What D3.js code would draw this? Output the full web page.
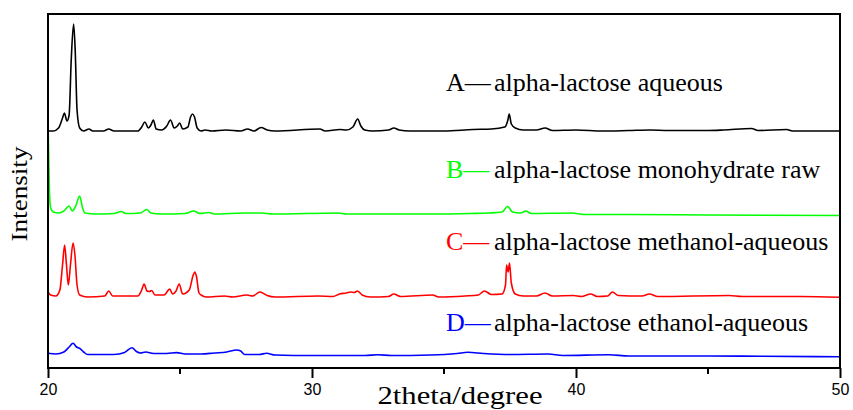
<!DOCTYPE html>
<html>
<head>
<meta charset="utf-8">
<script src="https://cdn.jsdelivr.net/npm/d3@7"></script>
<style>
  body { margin: 0; background: #fff; }
</style>
</head>
<body>
<div id="xrdDiv"></div>
<script>
// sample names and legend letters
var letters = ["A", "B", "C", "D"];
var names = [
  "alpha-lactose aqueous",
  "alpha-lactose monohydrate raw",
  "alpha-lactose methanol-aqueous",
  "alpha-lactose ethanol-aqueous"
];
var xTicks = [20, 30, 40, 50];
var xMinorTicks = [25, 35, 45];

// [2theta, intensity (stacked, a.u.)]
var seriesA = [[20.0,237],[20.2,237],[20.4,240],[20.55,250],[20.62,255],[20.72,247],[20.8,253],[20.88,308],[20.97,344],[21.03,318],[21.1,258],[21.2,240],[21.35,237],[21.55,239],[21.7,237],[22.1,237],[22.3,239],[22.5,237],[23.4,237],[23.55,241],[23.67,246],[23.8,240],[23.9,243],[23.99,248],[24.1,239],[24.3,238],[24.5,242],[24.64,248],[24.78,240],[24.9,242],[24.99,245],[25.1,239],[25.3,241],[25.4,251],[25.47,254],[25.55,251],[25.65,240],[25.8,237],[25.95,238],[26.2,237],[26.74,238],[27.3,237],[27.56,239],[27.8,237],[28.07,240.5],[28.3,238],[28.6,237],[30.3,239],[30.5,237],[31.06,238.5],[31.3,238],[31.55,241],[31.73,249],[31.85,242],[32.0,238],[32.3,237],[32.9,238],[33.1,240],[33.3,238],[33.7,237],[35.0,237],[36.1,238.5],[36.8,239],[37.3,241],[37.42,248],[37.47,254],[37.55,244],[37.7,240],[38.0,238],[38.5,238],[38.83,240],[39.1,237.5],[40.0,238],[41.0,237],[42.0,237.5],[42.8,238],[43.5,237.5],[45.0,237.5],[45.6,238],[46.65,239.5],[46.9,237.5],[47.98,238.5],[48.2,237],[50.0,237]];

var seriesB = [[20.0,246],[20.03,208],[20.06,173],[20.1,160],[20.2,156],[20.4,155],[20.6,157],[20.8,162],[20.92,157],[21.05,162],[21.2,172],[21.3,161],[21.4,155],[21.8,154],[22.5,154.5],[22.78,156.5],[22.95,154.5],[23.5,155],[23.74,158.5],[23.9,155],[24.3,154],[25.2,154.5],[25.52,157],[25.75,154.5],[26.1,155.5],[26.3,154],[27.46,155],[28.1,155],[28.5,154],[31.0,155],[31.3,154],[33.0,154],[34.5,154],[36.0,154.5],[36.7,155],[37.2,156],[37.41,161.5],[37.6,156],[37.9,155],[38.1,157],[38.3,154.5],[39.84,155],[40.3,153.5],[42.0,153.5],[45.0,153],[50.0,152.5]];

var seriesC = [[20.0,76],[20.1,73],[20.3,72],[20.45,78],[20.55,103],[20.63,123],[20.7,103],[20.77,83],[20.85,103],[20.95,125],[21.02,113],[21.1,83],[21.2,73],[21.5,71],[22.15,72],[22.3,77],[22.45,72],[23.4,72],[23.55,78],[23.64,84],[23.75,77],[23.85,76.5],[23.93,77.5],[24.05,73],[24.4,73],[24.61,79],[24.72,74],[24.85,77],[24.97,84],[25.1,74],[25.35,78],[25.5,93],[25.56,96],[25.62,92],[25.72,75],[25.8,73],[26.0,71],[26.68,72],[27.0,71],[27.53,73],[27.75,72],[28.03,76],[28.3,72.5],[28.6,71],[30.23,72],[30.8,71.5],[31.04,74],[31.3,75],[31.47,76],[31.6,75.5],[31.72,77],[31.9,73],[32.2,71],[32.9,71.5],[33.1,74],[33.35,71.5],[34.57,73],[34.8,71],[35.8,72],[36.3,73],[36.53,77],[36.8,73.5],[37.2,74],[37.33,83],[37.37,103],[37.43,96],[37.48,105],[37.55,85],[37.7,74],[38.0,72],[38.5,72],[38.83,75],[39.1,72],[39.9,72.5],[40.2,71.5],[40.56,74],[40.8,71.5],[41.2,72],[41.38,76],[41.6,72.5],[42.5,72],[42.78,74],[43.1,71.5],[45.8,72.5],[46.3,71.5],[48.5,71.5],[50.0,70.7]];

var seriesD = [[20.0,14.7],[20.3,14],[20.6,16],[20.8,21],[20.95,24.7],[21.08,21],[21.2,19.7],[21.35,16],[21.5,13.5],[22.5,13.5],[22.9,15.5],[23.18,20.3],[23.35,16.5],[23.5,15],[23.7,16],[24.0,14.5],[24.5,14.5],[24.87,15.4],[25.2,14],[25.8,14],[26.3,15],[26.77,16],[27.15,18],[27.3,17],[27.45,13.5],[28.0,13.5],[28.28,14.7],[28.6,13],[30.0,12.5],[32.0,12.5],[32.49,13.3],[33.0,12.5],[34.5,13],[35.5,14.5],[35.9,15.7],[36.5,14.5],[37.5,13.5],[38.95,14],[39.5,12.5],[41.25,13.2],[42.0,12],[45.0,12],[47.0,11.7],[50.0,11.3]];

var allSeries = [seriesA, seriesB, seriesC, seriesD];
var colors = ["#000000", "#00ff00", "#ff0000", "#0000ff"];

var svgWidth = 853,
  svgHeight = 410,
  plotLeft = 48,
  plotRight = 840,
  plotTop = 14,
  plotBottom = 368,
  labelLetterX = 446,
  labelTextX = 494,
  labelBaselines = [91, 178, 250, 331];

var x = d3.scaleLinear().domain([20, 50]).range([plotLeft, plotRight]);
var y = d3.scaleLinear().domain([0, 354]).range([plotBottom, plotTop]);

var svg = d3.select("#xrdDiv")
  .append("svg")
  .attr("width", svgWidth)
  .attr("height", svgHeight);

var line = d3.line()
  .curve(d3.curveMonotoneX)
  .x(function(d) { return x(d[0]); })
  .y(function(d) { return y(d[1]); });

svg.selectAll("path.pattern")
  .data(allSeries)
  .enter()
  .append("path")
  .attr("class", "pattern")
  .attr("d", line)
  .attr("fill", "none")
  .attr("stroke", function(d, i) { return colors[i]; })
  .attr("stroke-width", 1.6)
  .attr("stroke-linejoin", "round");

// frame
svg.append("rect")
  .attr("x", plotLeft)
  .attr("y", plotTop)
  .attr("width", plotRight - plotLeft)
  .attr("height", plotBottom - plotTop)
  .attr("fill", "none")
  .attr("stroke", "#000")
  .attr("stroke-width", 2);

// bottom axis, major ticks with labels
var xAxis = d3.axisBottom(x)
  .tickValues(xTicks)
  .tickSize(10)
  .tickFormat(d3.format("d"));

var gx = svg.append("g")
  .attr("transform", "translate(0," + plotBottom + ")")
  .call(xAxis);
gx.select(".domain").remove();
gx.selectAll(".tick line").attr("stroke", "#000").attr("stroke-width", 2);
gx.selectAll(".tick text")
  .attr("font-family", "'Liberation Sans', Arial, sans-serif")
  .attr("font-size", "16px")
  .attr("fill", "#000")
  .attr("dy", "0.85em");

// minor ticks
svg.selectAll("line.minor")
  .data(xMinorTicks)
  .enter()
  .append("line")
  .attr("class", "minor")
  .attr("x1", function(d) { return x(d); })
  .attr("x2", function(d) { return x(d); })
  .attr("y1", plotBottom)
  .attr("y2", plotBottom + 6)
  .attr("stroke", "#000")
  .attr("stroke-width", 2);

// axis titles
svg.append("text")
  .text("2theta/degree")
  .attr("x", 460)
  .attr("y", 404)
  .attr("font-family", "'Liberation Serif', 'Times New Roman', serif")
  .attr("font-size", "26px")
  .attr("textLength", 165)
  .attr("lengthAdjust", "spacingAndGlyphs")
  .style("text-anchor", "middle");

svg.append("text")
  .text("Intensity")
  .attr("transform", "translate(27,194) rotate(-90)")
  .attr("font-family", "'Liberation Serif', 'Times New Roman', serif")
  .attr("font-size", "24px")
  .attr("textLength", 95)
  .attr("lengthAdjust", "spacingAndGlyphs")
  .style("text-anchor", "middle");

// sample labels
svg.selectAll("text.letters")
  .data(letters)
  .enter()
  .append("text")
  .attr("class", "letters")
  .text(function(d) { return d + "\u2014"; })
  .attr("x", labelLetterX)
  .attr("y", function(d, i) { return labelBaselines[i]; })
  .attr("font-family", "'Liberation Serif', 'Times New Roman', serif")
  .attr("font-size", "26px")
  .attr("fill", function(d, i) { return colors[i]; });

svg.selectAll("text.names")
  .data(names)
  .enter()
  .append("text")
  .attr("class", "names")
  .text(function(d) { return d; })
  .attr("x", labelTextX)
  .attr("y", function(d, i) { return labelBaselines[i]; })
  .attr("font-family", "'Liberation Serif', 'Times New Roman', serif")
  .attr("font-size", "26px")
  .attr("fill", "#000");
</script>
</body>
</html>
